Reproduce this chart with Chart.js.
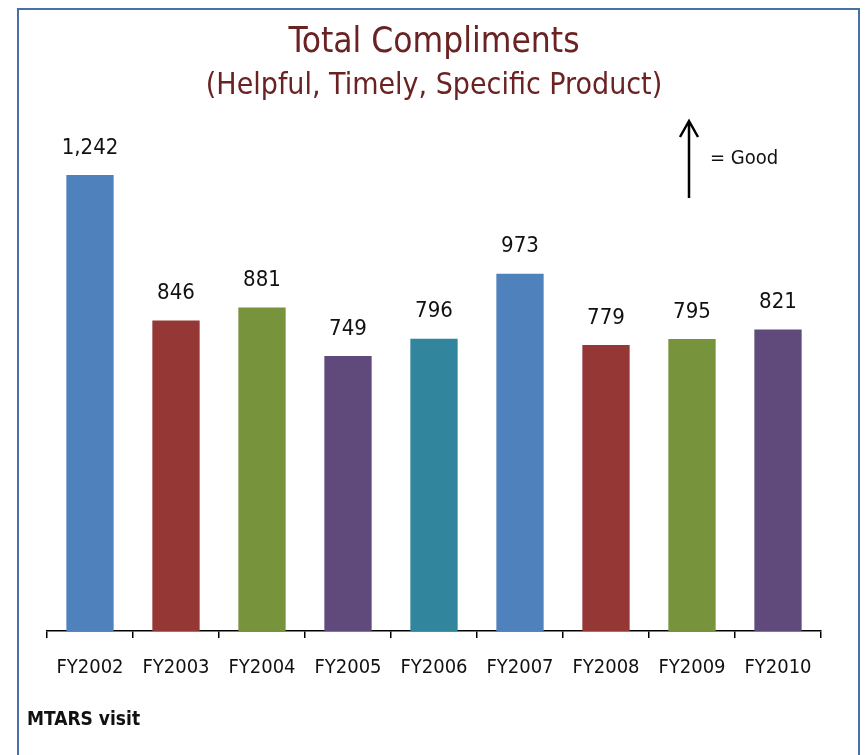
<!DOCTYPE html>
<html>
<head>
<meta charset="utf-8">
<script src="https://cdn.jsdelivr.net/npm/chart.js@4.4.1/dist/chart.umd.min.js"></script>
<style>
  body { margin: 0; background: #fff; }
  .frame {
    position: absolute; left: 17px; top: 8px; width: 843px; height: 760px;
    border: 2px solid #4a6fa5; border-bottom: none; box-sizing: border-box;
  }
  .wrap { position: absolute; left: 0; top: 0; width: 867px; height: 755px; }
</style>
</head>
<body>
<div class="frame"></div>
<div class="wrap"><canvas id="chart" width="867" height="755"></canvas></div>
<script>
const years = ['FY2002', 'FY2003', 'FY2004', 'FY2005', 'FY2006', 'FY2007', 'FY2008', 'FY2009', 'FY2010'];
const compliments = [1242, 846, 881, 749, 796, 973, 779, 795, 821];
const barColors = ['#4f81bd', '#953735', '#77933c', '#604a7b', '#31859c', '#4f81bd', '#953735', '#77933c', '#604a7b'];

const NARROW = '"Liberation Sans Narrow", "Arial Narrow", "DejaVu Sans Condensed", sans-serif';

// value labels above each bar
const valueLabels = {
  id: 'valueLabels',
  afterDatasetsDraw(chart) {
    const ctx = chart.ctx;
    const meta = chart.getDatasetMeta(0);
    ctx.save();
    ctx.font = '22px ' + NARROW;
    ctx.fillStyle = '#111';
    ctx.textAlign = 'center';
    ctx.textBaseline = 'middle';
    meta.data.forEach((bar, i) => {
      ctx.fillText(compliments[i].toLocaleString('en-US'), bar.x, bar.y - 27);
    });
    ctx.restore();
  }
};

// "up arrow = Good" note and source text
const notes = {
  id: 'notes',
  afterDraw(chart) {
    const ctx = chart.ctx;
    ctx.save();
    ctx.strokeStyle = '#000';
    ctx.lineWidth = 2.5;
    ctx.beginPath();
    ctx.moveTo(689, 198);
    ctx.lineTo(689, 121);
    ctx.moveTo(680, 137);
    ctx.lineTo(689, 121);
    ctx.lineTo(698, 137);
    ctx.stroke();
    ctx.fillStyle = '#111';
    ctx.font = '20px ' + NARROW;
    ctx.textBaseline = 'middle';
    ctx.fillText('= Good', 710, 159);
    ctx.font = 'bold 19px ' + NARROW;
    ctx.fillText('MTARS visit', 27, 720);
    ctx.restore();
  }
};

new Chart(document.getElementById('chart'), {
  type: 'bar',
  data: {
    labels: years,
    datasets: [{
      data: compliments,
      backgroundColor: barColors,
      barPercentage: 0.55,
      categoryPercentage: 1.0
    }]
  },
  options: {
    responsive: false,
    animation: false,
    layout: { padding: { left: 47, right: 46, top: 0, bottom: 57 } },
    plugins: {
      legend: { display: false },
      tooltip: { enabled: false },
      title: {
        display: true,
        text: 'Total Compliments',
        color: '#6b2222',
        font: { family: NARROW, size: 35, weight: 'normal' },
        padding: { top: 22, bottom: 0 }
      },
      subtitle: {
        display: true,
        text: '(Helpful, Timely, Specific Product)',
        color: '#6b2222',
        font: { family: NARROW, size: 30 },
        padding: { top: 4, bottom: 13 }
      }
    },
    scales: {
      x: {
        grid: { display: true, drawOnChartArea: false, drawTicks: true, tickLength: 7, color: '#000', lineWidth: 1.5 },
        border: { display: true, color: '#000', width: 1.5 },
        ticks: { color: '#111', font: { family: NARROW, size: 20 }, padding: 18, maxRotation: 0 }
      },
      y: {
        display: false,
        min: 0,
        max: 1400
      }
    }
  },
  plugins: [valueLabels, notes]
});
</script>
</body>
</html>
